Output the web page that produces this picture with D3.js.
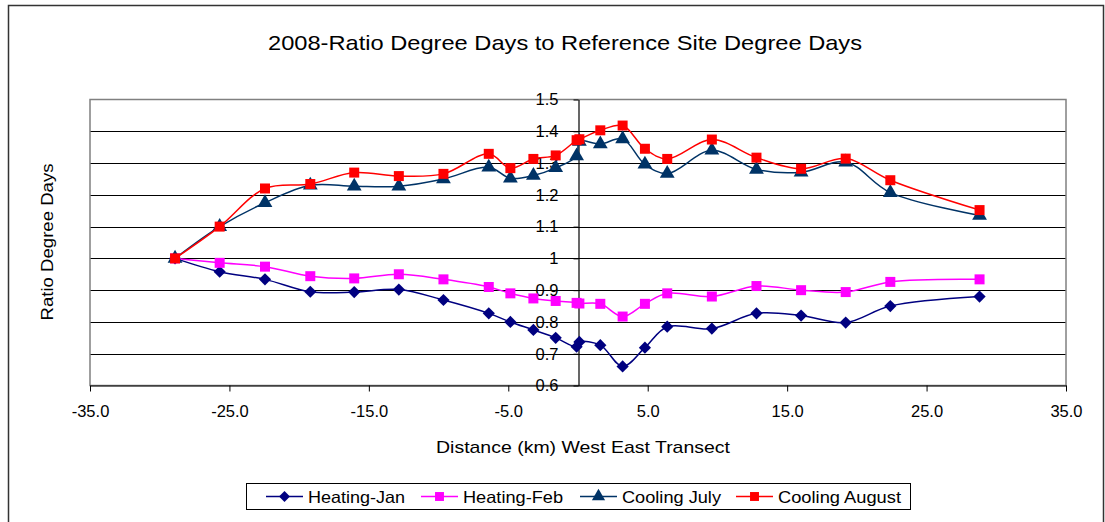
<!DOCTYPE html>
<html>
<head>
<meta charset="utf-8">
<script src="https://cdn.jsdelivr.net/npm/d3@7"></script>
<style>
  body { margin: 0; background: #fff; }
  text { font-family: "Liberation Sans", Arial, sans-serif; fill: #000; }
</style>
</head>
<body>
<div class="chart"></div>
<script>
// Distance along the transect (km)
var distance = [-28.9, -25.7, -22.45, -19.2, -16.05, -12.85, -9.65, -6.4, -4.85, -3.2, -1.6, -0.1, 0.1,
                1.6, 3.2, 4.8, 6.4, 9.6, 12.8, 16.0, 19.2, 22.4, 28.8];

// Ratio values
var heatingJan = [1.0, 0.958, 0.934, 0.895, 0.894, 0.902, 0.869, 0.827, 0.80, 0.775, 0.75, 0.722, 0.737,
                  0.727, 0.66, 0.719, 0.785, 0.779, 0.827, 0.82, 0.798, 0.85, 0.88];
var heatingFeb = [1.0, 0.986, 0.974, 0.944, 0.937, 0.95, 0.934, 0.91, 0.89, 0.874, 0.866, 0.86, 0.858,
                  0.857, 0.817, 0.857, 0.89, 0.88, 0.913, 0.90, 0.894, 0.926, 0.934];
var coolingJuly = [1.0, 1.10, 1.175, 1.23, 1.227, 1.227, 1.25, 1.287, 1.252, 1.261, 1.285, 1.322, 1.368,
                   1.36, 1.376, 1.296, 1.267, 1.34, 1.28, 1.271, 1.303, 1.207, 1.135];
var coolingAug = [1.0, 1.10, 1.22, 1.234, 1.27, 1.259, 1.266, 1.329, 1.284, 1.313, 1.324, 1.372, 1.375,
                  1.403, 1.418, 1.345, 1.313, 1.374, 1.317, 1.282, 1.314, 1.246, 1.152];

var seriesNames = ["Heating-Jan", "Heating-Feb", "Cooling July", "Cooling August"];
var xTicks = [-35, -25, -15, -5, 5, 15, 25, 35];
var yTicks = [0.6, 0.7, 0.8, 0.9, 1.0, 1.1, 1.2, 1.3, 1.4, 1.5];

var width = 1105, height = 522;
var plotLeft = 90, plotRight = 1066, plotTop = 99.5, plotBottom = 385.5;

var svg = d3.select(".chart").append("svg")
            .attr("width", width)
            .attr("height", height);

// outer chart frame
svg.append("rect")
   .attr("x", 8.5).attr("y", 5.5)
   .attr("width", 1095).attr("height", 540)
   .attr("fill", "none").attr("stroke", "#333").attr("stroke-width", 1.5);

var x = d3.scaleLinear().domain([-35, 35]).range([plotLeft, plotRight]);
var y = d3.scaleLinear().domain([0.6, 1.5]).range([plotBottom, plotTop]);

// gridlines
svg.append("g")
   .selectAll("line")
   .data(yTicks.slice(1, -1))
   .enter().append("line")
   .attr("x1", plotLeft).attr("x2", plotRight)
   .attr("y1", function(d) { return Math.round(y(d)) + 0.5; })
   .attr("y2", function(d) { return Math.round(y(d)) + 0.5; })
   .attr("stroke", "#000").attr("stroke-width", 1.2);

// plot area border
svg.append("rect")
   .attr("x", plotLeft).attr("y", plotTop)
   .attr("width", plotRight - plotLeft).attr("height", plotBottom - plotTop)
   .attr("fill", "none").attr("stroke", "#808080").attr("stroke-width", 1.5);

// x axis
var xAxis = svg.append("g")
   .attr("transform", "translate(0," + plotBottom + ")")
   .call(d3.axisBottom(x).tickValues(xTicks)
         .tickFormat(function(d) { return d.toFixed(1); })
         .tickSize(6).tickSizeOuter(0).tickPadding(14));
xAxis.select(".domain").attr("stroke", "#000").attr("stroke-width", 1.2);
xAxis.selectAll("text").style("font-size", "16.5px").attr("font-family", "Liberation Sans, Arial, sans-serif");

// y axis crossing at 0
var yAxis = svg.append("g")
   .attr("transform", "translate(" + (Math.round(x(0)) + 0.5) + ",0)")
   .call(d3.axisLeft(y).tickValues(yTicks).tickFormat(function(d) { return d3.format("~g")(d); })
         .tickSize(5).tickSizeOuter(0).tickPadding(15));
yAxis.select(".domain").attr("stroke", "#000").attr("stroke-width", 1.2);
yAxis.selectAll("text").style("font-size", "16.5px").attr("font-family", "Liberation Sans, Arial, sans-serif");

// titles
svg.append("text")
   .attr("x", 565).attr("y", 50)
   .attr("text-anchor", "middle")
   .attr("textLength", 594).attr("lengthAdjust", "spacingAndGlyphs")
   .style("font-size", "21px")
   .text("2008-Ratio Degree Days to Reference Site Degree Days");

svg.append("text")
   .attr("x", 583).attr("y", 453)
   .attr("text-anchor", "middle")
   .attr("textLength", 294).attr("lengthAdjust", "spacingAndGlyphs")
   .style("font-size", "17px")
   .text("Distance (km) West East Transect");

svg.append("text")
   .attr("transform", "translate(53,242) rotate(-90)")
   .attr("text-anchor", "middle")
   .attr("textLength", 157).attr("lengthAdjust", "spacingAndGlyphs")
   .style("font-size", "16.5px")
   .text("Ratio Degree Days");

// series
var series = [
  { name: seriesNames[0], values: heatingJan, color: "#000080", shape: d3.symbolDiamond2, size: 95 },
  { name: seriesNames[1], values: heatingFeb, color: "#FF00FF", shape: d3.symbolSquare, size: 100 },
  { name: seriesNames[2], values: coolingJuly, color: "#003366", shape: d3.symbolTriangle, size: 95 },
  { name: seriesNames[3], values: coolingAug, color: "#FF0000", shape: d3.symbolSquare, size: 100 }
];

var line = d3.line()
   .x(function(d) { return x(d[0]); })
   .y(function(d) { return y(d[1]); })
   .curve(d3.curveCatmullRom.alpha(0.5));

series.forEach(function(s) {
  var pts = distance.map(function(dx, i) { return [dx, s.values[i]]; });
  var g = svg.append("g");
  g.append("path")
   .datum(pts)
   .attr("d", line)
   .attr("fill", "none")
   .attr("stroke", s.color)
   .attr("stroke-width", 1.5);
  g.selectAll("path.m")
   .data(pts)
   .enter().append("path")
   .attr("class", "m")
   .attr("transform", function(d) { return "translate(" + x(d[0]) + "," + y(d[1]) + ")"; })
   .attr("d", d3.symbol().type(s.shape).size(s.size))
   .attr("fill", s.color);
});

// legend
svg.append("rect")
   .attr("x", 246.5).attr("y", 483.5)
   .attr("width", 664).attr("height", 26)
   .attr("fill", "#fff").attr("stroke", "#000").attr("stroke-width", 1);

var legendX = [266, 421, 580, 736];
var legendLen = [97, 100, 99, 123];
series.forEach(function(s, i) {
  var lg = svg.append("g").attr("transform", "translate(" + legendX[i] + ",496.5)");
  lg.append("line").attr("x1", 0).attr("x2", 37).attr("stroke", s.color).attr("stroke-width", 1.5);
  lg.append("path")
    .attr("transform", "translate(18.5,0)")
    .attr("d", d3.symbol().type(s.shape).size(s.size * 0.8))
    .attr("fill", s.color);
  lg.append("text")
    .attr("x", 42).attr("y", 6)
    .attr("textLength", legendLen[i]).attr("lengthAdjust", "spacingAndGlyphs")
    .style("font-size", "16.5px")
    .text(s.name);
});
</script>
</body>
</html>
